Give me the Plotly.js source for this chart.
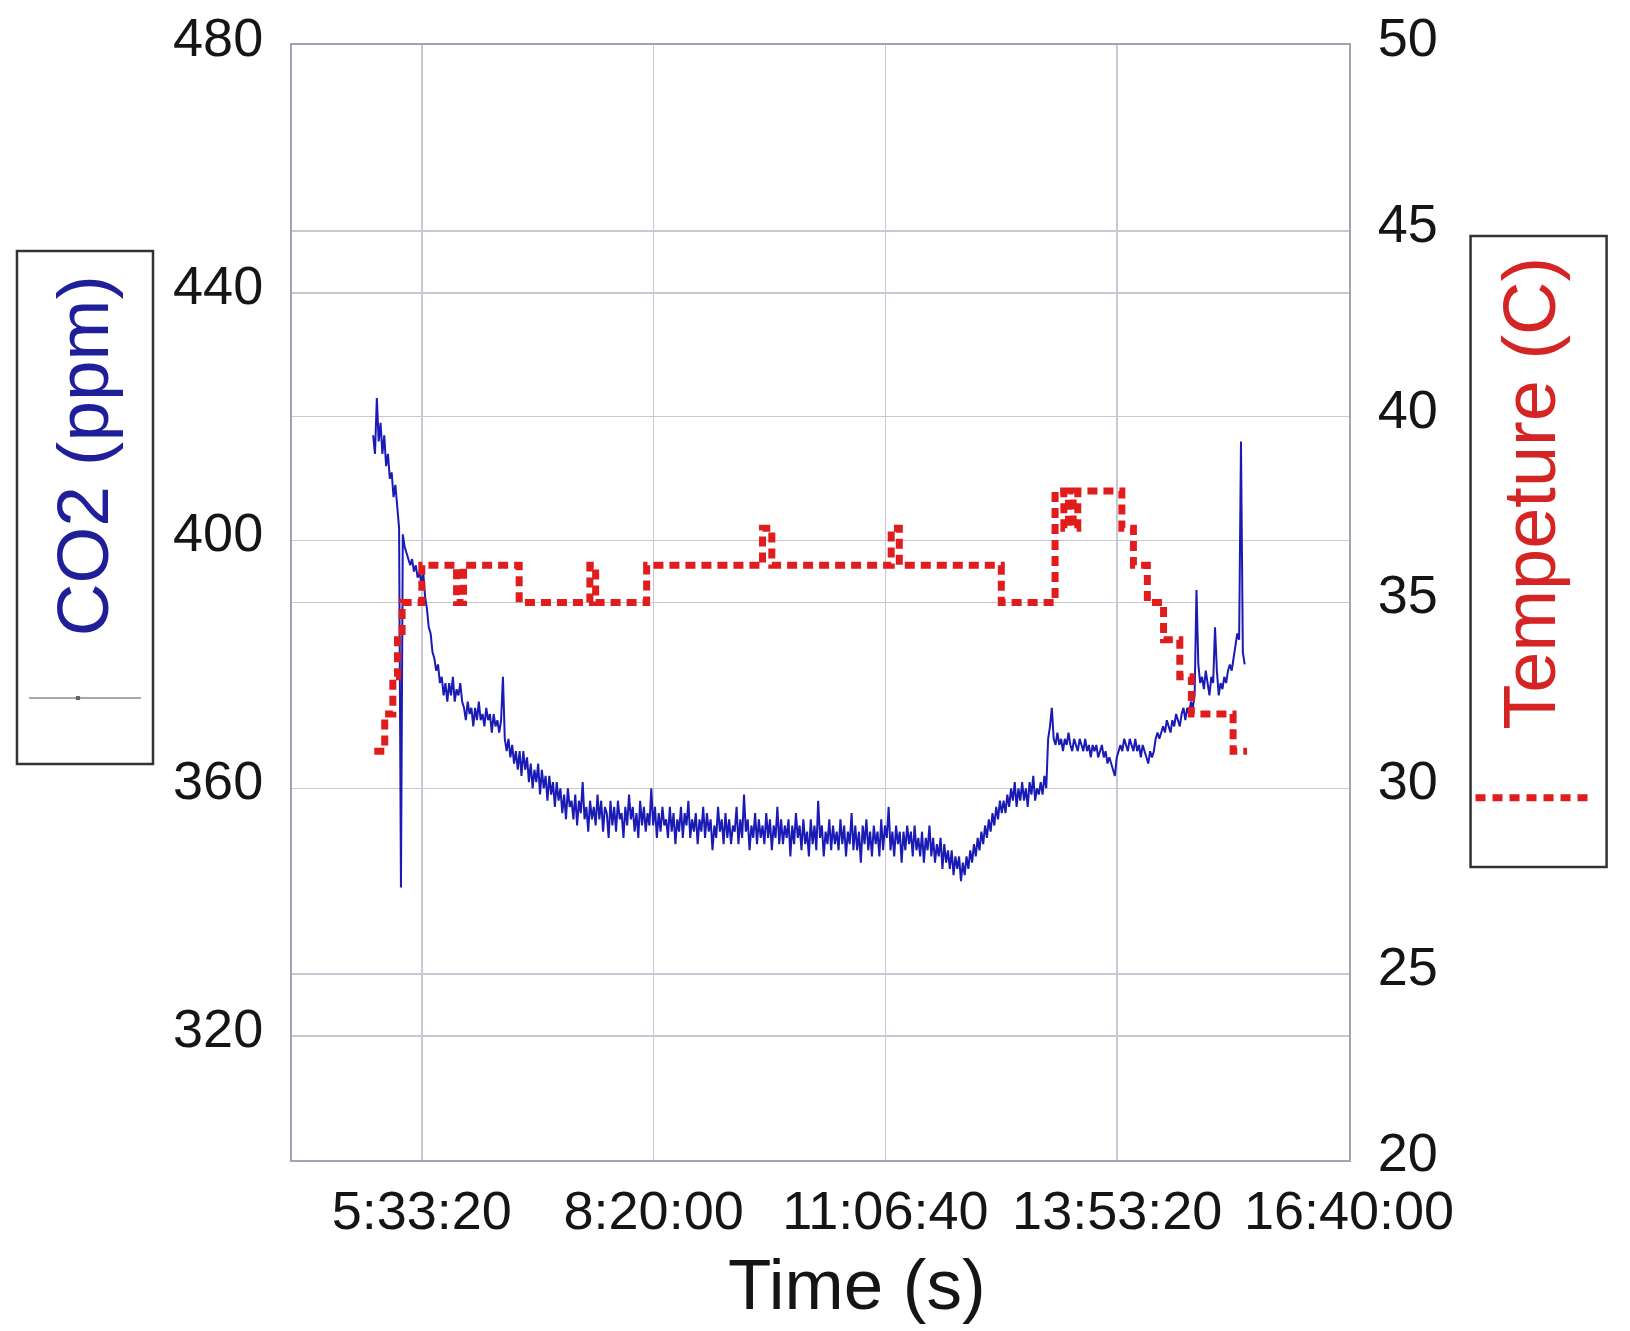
<!DOCTYPE html>
<html>
<head>
<meta charset="utf-8">
<script src="https://cdn.plot.ly/plotly-3.0.1.min.js"></script>
<style>
  html, body { margin: 0; padding: 0; background: #fff; }
  #chart { width: 1630px; height: 1331px; }
</style>
</head>
<body>
<div id="chart"></div>
<script>
// time axis is in seconds since midnight, labelled as h:mm:ss
const timeTicks = [20000, 30000, 40000, 50000, 60000];
const timeLabels = ['5:33:20', '8:20:00', '11:06:40', '13:53:20', '16:40:00'];

// CO2 log, one reading every 80 s from 17900 s
const co2Start = 17900;
const co2Step = 80;
const co2Values = [
    417, 414, 423, 416, 419, 414, 417, 412, 414, 410,
    411, 407, 409, 405, 402, 344, 401, 399, 398, 397,
    396, 397, 395, 396, 394, 395, 393, 395, 391, 389,
    386, 385, 382, 381, 379, 380, 377, 378, 375, 377,
    374, 377, 375, 378, 374, 376, 375, 377, 374, 373,
    371, 374, 372, 373, 370, 373, 371, 374, 371, 372,
    370, 373, 371, 372, 369, 372, 370, 371, 369, 371,
    378, 368, 366, 368, 365, 367, 364, 366, 363, 366,
    362, 366, 363, 365, 361, 364, 360, 363, 361, 364,
    359, 363, 360, 362, 358, 362, 359, 361, 357, 361,
    358, 360, 356, 359, 355, 360, 357, 358, 355, 359,
    354, 358, 356, 361, 355, 357, 353, 358, 355, 357,
    354, 359, 355, 358, 353, 357, 356, 352, 358, 354,
    357, 353, 358, 355, 356, 352, 357, 354, 359, 355,
    357, 353, 356, 352, 358, 354, 357, 353, 356, 354,
    360, 354, 357, 352, 356, 353, 357, 354, 355, 352,
    357, 353, 356, 351, 355, 353, 357, 352, 356, 354,
    358, 352, 355, 353, 356, 351, 355, 353, 357, 352,
    356, 353, 355, 350, 354, 352, 357, 353, 355, 351,
    356, 352, 355, 351, 354, 353, 357, 351, 355, 352,
    359, 353, 355, 350, 354, 352, 356, 351, 355, 352,
    354, 351, 356, 352, 355, 350, 354, 352, 357, 351,
    355, 351, 354, 352, 355, 349, 354, 351, 356, 352,
    354, 350, 355, 351, 353, 349, 355, 351, 354, 350,
    358, 352, 354, 349, 353, 351, 355, 350, 354, 351,
    353, 350, 355, 351, 354, 349, 353, 351, 356, 350,
    354, 350, 353, 348, 354, 351, 355, 350, 353, 349,
    354, 351, 353, 349, 355, 350, 354, 352, 357, 350,
    353, 349, 354, 351, 353, 348, 353, 350, 354, 351,
    353, 349, 354, 350, 352, 349, 353, 348, 352, 350,
    354, 349, 352, 348, 351, 349, 352, 347, 351, 348,
    350, 347, 350, 346, 349, 347, 349, 345, 348, 346,
    349, 347, 350, 348, 351, 349, 352, 350, 353, 351,
    354, 352, 355, 353, 356, 354, 357, 355, 358, 356,
    358, 356, 359, 357, 360, 358, 361, 357, 360, 358,
    361, 358, 360, 357, 361, 359, 362, 358, 360, 359,
    361, 359, 362, 360, 368, 370, 373, 368, 367, 369,
    367, 368, 366, 368, 367, 369, 367, 366, 368, 367,
    366, 368, 367, 366, 368, 366, 367, 365, 367, 366,
    367, 365, 366, 367, 365, 366, 364, 365, 364, 363,
    362, 365, 366, 367, 366, 368, 367, 366, 368, 367,
    366, 368, 366, 367, 365, 367, 366, 365, 364, 366,
    365, 366, 368, 369, 368, 369, 370, 369, 371, 370,
    369, 371, 370, 372, 371, 370, 372, 373, 371, 373,
    372, 374, 373, 375, 392, 380, 377, 378, 376, 379,
    377, 375, 378, 377, 386, 379, 375, 377, 376, 378,
    377, 379, 380, 379, 381, 383, 385, 384, 416, 382,
    380
];

// temperature, each value holds until the next time
const tempTime = [17950, 18400, 18750, 18950, 19150, 20000, 21500, 21800, 24200, 27250,
                  27500, 29700, 34700, 35100, 40250, 40600, 45000, 47320, 47700, 47900,
                  48100, 48300, 50200, 50700, 51300, 52000, 52700, 53200, 55000, 55600];
const tempValues = [31, 32, 33, 34, 35, 36, 35, 36, 35, 36,
                    35, 36, 37, 36, 37, 36, 35, 38, 37, 38,
                    37, 38, 37, 36, 35, 34, 33, 32, 31, 31];

const co2Color = '#1a1ab4';
const tempColor = '#e01c1c';
const gridColor = '#c8c8d4';
const frameColor = '#a2a2b2';

var co2Trace = {
    x0: co2Start,
    dx: co2Step,
    y: co2Values,
    type: 'scatter',
    mode: 'lines',
    name: 'CO2 (ppm)',
    line: {color: co2Color, width: 2}
};

var tempTrace = {
    x: tempTime,
    y: tempValues,
    yaxis: 'y2',
    type: 'scatter',
    mode: 'lines',
    name: 'Tempeture (C)',
    line: {color: tempColor, width: 7, shape: 'hv', dash: '10px,6px'}
};

var tickFont = {family: 'Liberation Sans, Arial, sans-serif', size: 54, color: '#151515'};

var layout = {
    width: 1630,
    height: 1331,
    margin: {l: 292, r: 281, t: 45, b: 171},
    paper_bgcolor: '#ffffff',
    plot_bgcolor: '#ffffff',
    showlegend: false,
    font: {family: 'Liberation Sans, Arial, sans-serif', color: '#151515'},
    xaxis: {
        range: [14400, 60000],
        tickvals: timeTicks,
        ticktext: timeLabels,
        tickfont: tickFont,
        ticks: '',
        ticklabelstandoff: 2,
        showgrid: true,
        gridcolor: gridColor,
        gridwidth: 1.5,
        zeroline: false,
        showline: true,
        linecolor: frameColor,
        linewidth: 2,
        mirror: true
    },
    yaxis: {
        range: [300, 480],
        tick0: 0,
        dtick: 40,
        tickfont: tickFont,
        ticks: '',
        ticklabelstandoff: 16,
        ticklabelshift: -8,
        showgrid: true,
        gridcolor: gridColor,
        gridwidth: 1.5,
        zeroline: false,
        showline: true,
        linecolor: frameColor,
        linewidth: 2
    },
    yaxis2: {
        range: [20, 50],
        tick0: 0,
        dtick: 5,
        overlaying: 'y',
        side: 'right',
        tickfont: tickFont,
        ticks: '',
        ticklabelstandoff: 16,
        ticklabelshift: -8,
        showgrid: true,
        gridcolor: gridColor,
        gridwidth: 1.5,
        zeroline: false,
        showline: true,
        linecolor: frameColor,
        linewidth: 2
    },
    shapes: [
        // left box (CO2)
        {type: 'rect', xref: 'paper', yref: 'paper', x0: -0.2602, x1: -0.1315, y0: 0.3552, y1: 0.8152,
         line: {color: '#333333', width: 2.5}},
        {type: 'line', xref: 'paper', yref: 'paper', x0: -0.2488, x1: -0.1429, y0: 0.4143, y1: 0.4143,
         line: {color: '#8a8a8a', width: 1.5}},
        {type: 'rect', xref: 'paper', yref: 'paper', x0: -0.2045, x1: -0.2005, y0: 0.4125, y1: 0.4161,
         fillcolor: '#666666', line: {width: 0}},
        // right box (temperature)
        {type: 'rect', xref: 'paper', yref: 'paper', x0: 1.1150, x1: 1.2437, y0: 0.2628, y1: 0.8287,
         line: {color: '#333333', width: 2.5}},
        {type: 'line', xref: 'paper', yref: 'paper', x0: 1.1197, x1: 1.2266, y0: 0.325, y1: 0.325,
         line: {color: tempColor, width: 7, dash: '10px,7px'}}
    ],
    annotations: [
        {text: 'Time (s)', xref: 'paper', yref: 'paper', x: 0.5345, y: -0.0745,
         xanchor: 'center', yanchor: 'top', showarrow: false,
         font: {size: 71, color: '#151515'}},
        {text: 'CO2 (ppm)', xref: 'paper', yref: 'paper', x: -0.1987, y: 0.632,
         xanchor: 'center', yanchor: 'middle', textangle: -90, showarrow: false,
         font: {size: 73, color: '#1f1f99'}},
        {text: 'Tempeture (C)', xref: 'paper', yref: 'paper', x: 1.1708, y: 0.598,
         xanchor: 'center', yanchor: 'middle', textangle: -90, showarrow: false,
         font: {size: 74, color: '#d42424'}}
    ]
};

Plotly.newPlot('chart', [co2Trace, tempTrace], layout, {displayModeBar: false, staticPlot: true});
</script>
</body>
</html>
